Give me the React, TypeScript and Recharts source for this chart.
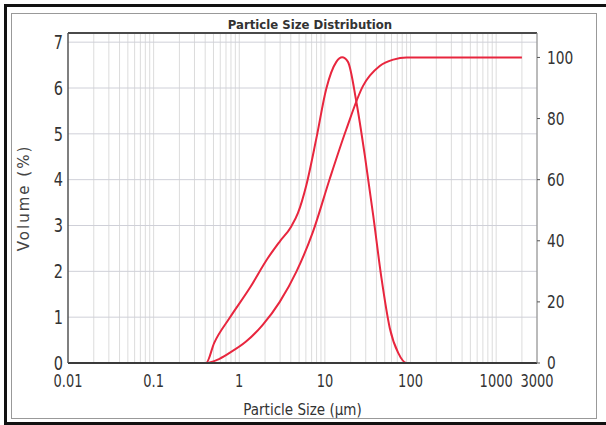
import React from "react";
import { ComposedChart, Line, XAxis, YAxis, ReferenceLine } from "recharts";

const volumeSizes = [0.02, 0.41, 0.51, 0.77, 1.32, 2.16, 2.97, 4.05, 4.84, 6.07, 7.95, 10.4, 13.6, 15.9, 18.6, 23.3, 29.2, 36.6, 45.8, 57.3, 71.8, 90, 2000];
const volumeValues = [0, 0, 0.44, 0.98, 1.63, 2.29, 2.65, 2.98, 3.27, 3.88, 4.9, 5.99, 6.57, 6.67, 6.57, 5.7, 4.54, 3.23, 1.85, 0.76, 0.22, 0, 0];

const cumSizes = [0.02, 0.41, 0.55, 0.77, 1.2, 1.88, 2.97, 4.65, 7.25, 11.4, 17.8, 27.9, 43.7, 63, 90, 2000];
const cumValues = [0, 0, 1, 3.3, 7, 12.5, 20, 29.9, 42.9, 60.3, 76.5, 90.7, 97.2, 99.3, 100, 100];

const xTicks = [0.01, 0.1, 1, 10, 100, 1000, 3000];
const leftTicks = [0, 1, 2, 3, 4, 5, 6, 7];
const rightTicks = [0, 20, 40, 60, 80, 100];

const decades = [0.01, 0.1, 1, 10, 100, 1000];
const multipliers = [1, 2, 3, 4, 5, 6, 7, 8, 9];

const volumeData = volumeSizes.map((s, i) => ({ size: s, volume: volumeValues[i] }));
const cumData = cumSizes.map((s, i) => ({ size: s, cum: cumValues[i] }));
const gridX: number[] = [];
decades.forEach((d) => multipliers.forEach((m) => { const v = +(d * m).toPrecision(3); if (v <= 3000 && v > 0.01) gridX.push(v); }));

const FONT = "'Liberation Sans Narrow', 'DejaVu Sans Condensed', sans-serif";
const RED = "#e8263e";

function makeTick(anchor: "start" | "middle" | "end", dy: string, size: number) {
  return (props: any) => {
    const { x, y, payload } = props;
    return (
      <g transform={`translate(${x},${y}) scale(0.85,1)`}>
        <text x={0} y={0} dy={dy} textAnchor={anchor} fill="#333" fontSize={size} fontFamily={FONT}>
          {String(payload.value)}
        </text>
      </g>
    );
  };
}

const XTick = makeTick("middle", "0.71em", 17);
const LeftTick = makeTick("end", "0.355em", 19);
const RightTick = makeTick("start", "0.355em", 18);

export default function App() {
  return (
    <div style={{ position: "absolute", left: 0, top: 0, width: 606, height: 425, background: "#fff", overflow: "hidden" }}>
      <ComposedChart width={606} height={425} margin={{ top: 33, right: 0, bottom: 0, left: 0 }}>
        <XAxis
          dataKey="size"
          type="number"
          scale="log"
          domain={[0.01, 3000]}
          ticks={xTicks}
          allowDataOverflow
          height={62}
          tickLine={false}
          tickSize={0}
          tickMargin={12}
          axisLine={{ stroke: "#3a3a3a", strokeWidth: 2 }}
          tick={XTick}
          label={{ value: "Particle Size (µm)", position: "insideBottom", offset: 10, fill: "#333", fontSize: 15, fontFamily: FONT }}
        />
        <YAxis
          yAxisId="left"
          domain={[0, 7.2]}
          ticks={leftTicks}
          width={68}
          tickLine={false}
          tickSize={0}
          tickMargin={5}
          axisLine={{ stroke: "#555", strokeWidth: 1.5 }}
          tick={LeftTick}
          label={{ value: "Volume (%)", angle: -90, position: "insideLeft", offset: 24, fill: "#444", fontSize: 15, fontFamily: "'DejaVu Sans', sans-serif", letterSpacing: 2, style: { textAnchor: "middle" } }}
        />
        <YAxis
          yAxisId="right"
          orientation="right"
          domain={[0, 108]}
          ticks={rightTicks}
          width={69}
          tickSize={3}
          tickMargin={7}
          tickLine={{ stroke: "#555" }}
          axisLine={{ stroke: "#888", strokeWidth: 1 }}
          tick={RightTick}
        />
        {gridX.map((v) => (
          <ReferenceLine key={"gx" + v} x={v} yAxisId="left" stroke="#dcdcdc" strokeWidth={1} />
        ))}
        {[1, 2, 3, 4, 5, 6, 7].map((v) => (
          <ReferenceLine key={"gy" + v} y={v} yAxisId="left" stroke="#cfd0d8" strokeWidth={1} />
        ))}
        <ReferenceLine y={7.2} yAxisId="left" stroke="#4a4a4a" strokeWidth={2} />
        <Line data={cumData} yAxisId="right" dataKey="cum" type="monotone" stroke={RED} strokeWidth={2} dot={false} isAnimationActive={false} />
        <Line data={volumeData} yAxisId="left" dataKey="volume" type="monotone" stroke={RED} strokeWidth={2} dot={false} isAnimationActive={false} />
      </ComposedChart>
      <div style={{ position: "absolute", left: 0, width: 620, top: 17, textAlign: "center", fontFamily: FONT, fontWeight: "bold", fontSize: 13, color: "#333" }}>
        Particle Size Distribution
      </div>
      <div style={{ position: "absolute", left: 11, top: 13, width: 586, height: 406, border: "1px solid #999", boxSizing: "border-box", pointerEvents: "none" }} />
      <div style={{ position: "absolute", left: 4, top: 4, width: 606, height: 421, borderLeft: "3px solid #111", borderTop: "3px solid #111", borderBottom: "3px solid #111", boxSizing: "border-box", pointerEvents: "none" }} />
    </div>
  );
}
